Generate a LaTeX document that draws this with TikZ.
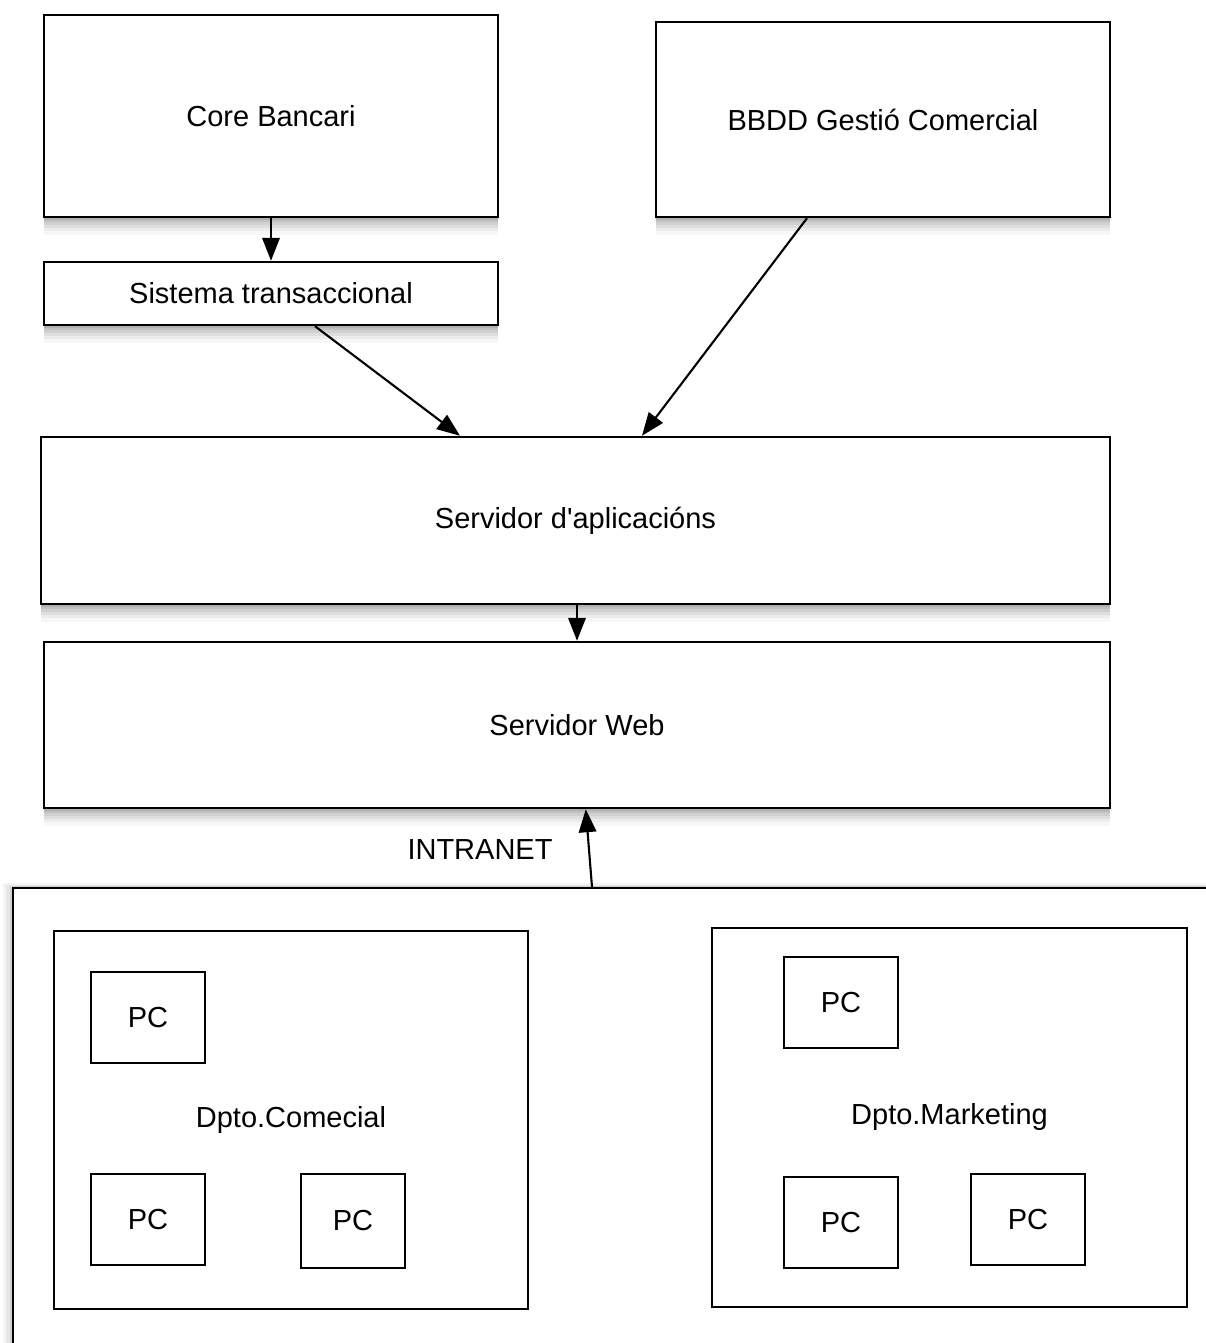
\documentclass[tikz,border=0pt]{standalone}
\usepackage{fontspec}
\setmainfont{Liberation Sans}
\usetikzlibrary{arrows.meta,shadows}
\definecolor{BankInk}{RGB}{0,0,0}
\definecolor{BankShade}{RGB}{40,40,40}
\tikzset{
  bank/soft shadow/.style={
    drop shadow={shadow xshift=0pt, shadow yshift=-1.5pt, opacity=0.10, fill=BankShade},
    drop shadow={shadow xshift=0pt, shadow yshift=-3pt, opacity=0.09, fill=BankShade},
    drop shadow={shadow xshift=0pt, shadow yshift=-4.5pt, opacity=0.08, fill=BankShade},
    drop shadow={shadow xshift=0pt, shadow yshift=-6pt, opacity=0.07, fill=BankShade},
    drop shadow={shadow xshift=0pt, shadow yshift=-8pt, opacity=0.05, fill=BankShade},
    drop shadow={shadow xshift=0pt, shadow yshift=-10pt, opacity=0.04, fill=BankShade}
  },
  bank/side shadow/.style={
    drop shadow={shadow xshift=-2pt, shadow yshift=1pt, opacity=0.10, fill=BankShade},
    drop shadow={shadow xshift=-4pt, shadow yshift=2pt, opacity=0.07, fill=BankShade},
    drop shadow={shadow xshift=-6pt, shadow yshift=3pt, opacity=0.05, fill=BankShade}
  },
  bank/box/.style={
    draw=BankInk,
    line width=1.4pt,
    fill=white,
    align=center,
    text=BankInk,
    inner sep=0pt,
    font=\fontsize{16.5}{20}\selectfont
  },
  bank/server/.style={bank/box, bank/soft shadow},
  bank/pc/.style={bank/box, line width=1.3pt, minimum width=2.28cm, minimum height=1.82cm},
  bank/arrow/.style={-{Triangle[length=4.6mm,width=3.5mm]}, line width=1.2pt, draw=BankInk},
  bank/label/.style={font=\fontsize{16.5}{20}\selectfont, text=BankInk}
}

\begin{document}
\begin{tikzpicture}[x=1cm,y=1cm]
  \useasboundingbox (0,0) rectangle (24.12,26.86);
  \clip (0,0) rectangle (24.12,26.86);
  % data sources
  \node[bank/server,minimum width=9.08cm,minimum height=4.04cm] (core) at (5.42,24.54) {Core Bancari};
  \node[bank/server,minimum width=9.08cm,minimum height=3.90cm] (bbdd) at (17.66,24.47) {BBDD Gestió Comercial};
  \node[bank/server,minimum width=9.08cm,minimum height=1.26cm] (trans) at (5.42,20.99) {Sistema transaccional};
  % servers
  \node[bank/server,minimum width=21.38cm,minimum height=3.34cm] (appsrv) at (11.51,16.45) {Servidor d\textquotesingle aplicacións};
  \node[bank/server,minimum width=21.32cm,minimum height=3.32cm] (websrv) at (11.54,12.36) {Servidor Web};
  % intranet
  \node[bank/box,bank/side shadow,anchor=north west,minimum width=26cm,minimum height=10cm] (lan) at (0.24,9.12) {};
  \node[bank/box,minimum width=9.48cm,minimum height=7.56cm] (comercial) at (5.82,4.46) {Dpto.Comecial};
  \node[bank/box,minimum width=9.50cm,minimum height=7.58cm] (marketing) at (18.99,4.51) {Dpto.Marketing};
  \node[bank/pc] (pc1) at (2.96,6.51) {PC};
  \node[bank/pc] (pc2) at (2.96,2.47) {PC};
  \node[bank/pc,minimum width=2.08cm,minimum height=1.88cm] (pc3) at (7.06,2.44) {PC};
  \node[bank/pc] (pc4) at (16.82,6.81) {PC};
  \node[bank/pc] (pc5) at (16.82,2.41) {PC};
  \node[bank/pc] (pc6) at (20.56,2.47) {PC};
  \node[bank/label] (intranet) at (9.6,9.86) {INTRANET};
  % flows
  \draw[bank/arrow] (core.south) -- (trans.north);
  \draw[bank/arrow] ([xshift=0.88cm]trans.south) -- ([xshift=-2.31cm]appsrv.north);
  \draw[bank/arrow] ([xshift=-1.52cm]bbdd.south) -- ([xshift=1.33cm]appsrv.north);
  \draw[bank/arrow] ([xshift=0.03cm]appsrv.south) -- (websrv.north);
  \draw[bank/arrow] ([xshift=11.6cm]lan.north west) -- ([xshift=10.86cm]websrv.south west);
\end{tikzpicture}
\end{document}
